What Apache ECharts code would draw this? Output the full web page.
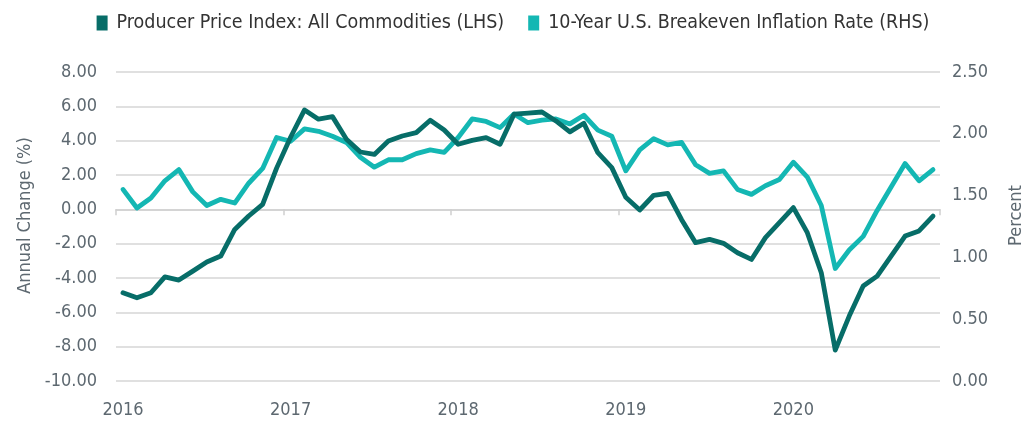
<!DOCTYPE html>
<html>
<head>
<meta charset="utf-8">
<script src="https://cdn.jsdelivr.net/npm/echarts@6/dist/echarts.min.js"></script>
<style>
  html, body { margin: 0; padding: 0; background: #fff; }
  #chart { width: 1026px; height: 421px; }
</style>
</head>
<body>
<div id="chart"></div>
<script>
// monthly, Jan 2016 - Nov 2020
const months = [];
for (let y = 2016; y <= 2020; y++) {
  for (let m = 1; m <= 12; m++) {
    if (y === 2020 && m > 11) break;
    months.push(y + '-' + (m < 10 ? '0' + m : m));
  }
}

// Producer Price Index: All Commodities, annual change (%) - left axis
const ppi = [
  -4.86, -5.15, -4.86, -3.93, -4.12, -3.6, -3.07, -2.72, -1.17, -0.39, 0.29, 2.4,
  4.2, 5.79, 5.25, 5.4, 4.08, 3.34, 3.2, 3.98, 4.27, 4.47, 5.19, 4.62,
  3.79, 4.02, 4.18, 3.79, 5.54, 5.6, 5.67, 5.15, 4.51, 5.01, 3.3, 2.43,
  0.7, -0.04, 0.82, 0.93, -0.6, -1.94, -1.75, -1.98, -2.53, -2.92, -1.65, -0.78,
  0.1, -1.36, -3.69, -8.2, -6.22, -4.47, -3.89, -2.72, -1.56, -1.26, -0.39
];

// 10-Year U.S. Breakeven Inflation Rate (%) - right axis
const breakeven = [
  1.55, 1.40, 1.48, 1.62, 1.71, 1.53, 1.42, 1.47, 1.44, 1.60, 1.72, 1.97,
  1.94, 2.04, 2.02, 1.98, 1.93, 1.81, 1.73, 1.79, 1.79, 1.84, 1.87, 1.85,
  1.97, 2.12, 2.10, 2.05, 2.16, 2.09, 2.11, 2.12, 2.08, 2.15, 2.03, 1.98,
  1.70, 1.87, 1.96, 1.91, 1.93, 1.75, 1.68, 1.70, 1.55, 1.51, 1.58, 1.63,
  1.77, 1.65, 1.42, 0.91, 1.06, 1.17, 1.38, 1.57, 1.76, 1.62, 1.71
];

const seriesNames = ['Producer Price Index: All Commodities (LHS)', '10-Year U.S. Breakeven Inflation Rate (RHS)'];
const colors = ['#076d68', '#14b7b3'];

const FONT = "'Liberation Sans Narrow', 'DejaVu Sans Condensed', 'Roboto', sans-serif";
const labelColor = '#5d6870';

const chart = echarts.init(document.getElementById('chart'));

const option = {
  animation: false,
  color: colors,
  textStyle: { fontFamily: FONT },
  legend: {
    top: 8,
    left: 'center',
    icon: 'rect',
    itemWidth: 11,
    itemHeight: 15,
    itemGap: 24,
    textStyle: { fontSize: 19.5, color: '#333', fontFamily: FONT, padding: [0, 0, 0, 4] },
    data: seriesNames
  },
  grid: { left: 116, right: 86, top: 72, bottom: 40, outerBoundsMode: 'none', containLabel: false },
  xAxis: [
    {
      type: 'category',
      data: months,
      boundaryGap: true,
      position: 'bottom',
      axisLine: { show: false },
      axisTick: { show: false },
      axisLabel: {
        interval: (idx) => idx % 12 === 0,
        formatter: (v) => v.slice(0, 4),
        fontSize: 18,
        color: labelColor,
        margin: 20,
        fontFamily: FONT
      }
    },
    {
      type: 'category',
      data: months,
      boundaryGap: true,
      position: 'bottom',
      axisLine: { show: true, onZero: true, onZeroAxisIndex: 0, lineStyle: { color: '#d0d0d0', width: 1.5 } },
      axisTick: { show: true, interval: 11, length: 6, lineStyle: { color: '#d0d0d0', width: 1.5 } },
      axisLabel: { show: false }
    }
  ],
  yAxis: [
    {
      type: 'value',
      min: -10,
      max: 8,
      interval: 2,
      name: 'Annual Change (%)',
      nameLocation: 'middle',
      nameGap: 81,
      nameTextStyle: { fontSize: 18, color: labelColor, fontFamily: FONT, padding: [0, 0, 0, 22] },
      axisLine: { show: false },
      axisTick: { show: false },
      axisLabel: { formatter: (v) => v.toFixed(2), fontSize: 18, color: labelColor, margin: 19, fontFamily: FONT },
      splitLine: { lineStyle: { color: '#d6d6d6', width: 1.5 } }
    },
    {
      type: 'value',
      min: 0,
      max: 2.5,
      interval: 0.5,
      name: 'Percent',
      nameLocation: 'middle',
      nameGap: 67,
      nameTextStyle: { fontSize: 18, color: labelColor, fontFamily: FONT, padding: [0, 0, 0, 22] },
      axisLine: { show: false },
      axisTick: { show: false },
      axisLabel: { formatter: (v) => v.toFixed(2), fontSize: 18, color: labelColor, margin: 12, fontFamily: FONT },
      splitLine: { show: false }
    }
  ],
  series: [
    {
      name: seriesNames[0],
      type: 'line',
      xAxisIndex: 0,
      yAxisIndex: 0,
      data: ppi,
      symbol: 'none',
      lineStyle: { width: 4.8, color: colors[0], join: 'round', cap: 'round' },
      z: 3
    },
    {
      name: seriesNames[1],
      type: 'line',
      xAxisIndex: 0,
      yAxisIndex: 1,
      data: breakeven,
      symbol: 'none',
      lineStyle: { width: 4.8, color: colors[1], join: 'round', cap: 'round' },
      z: 2
    }
  ]
};

chart.setOption(option);
</script>
</body>
</html>
